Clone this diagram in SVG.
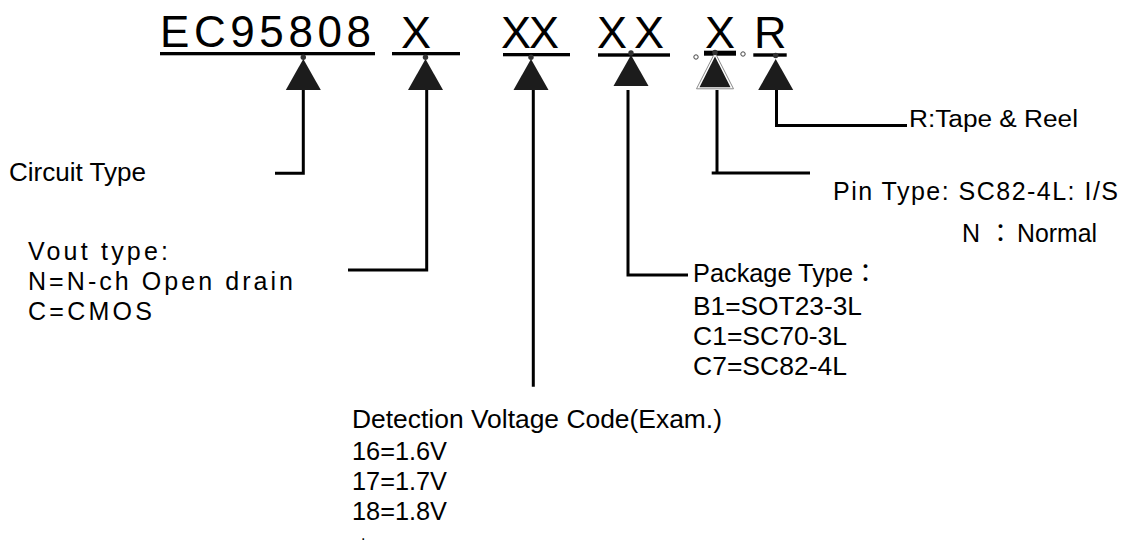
<svg xmlns="http://www.w3.org/2000/svg" width="1126" height="546" viewBox="0 0 1126 546">
<style>
text{font-family:"Liberation Sans","Noto Sans CJK TC",Arial,sans-serif;fill:#000}
.code{font-size:44px}
.code2{font-size:45px}
.lbl{font-size:25px}
.bar{fill:#000}
.wire{fill:none;stroke:#000;stroke-width:3;stroke-linecap:butt;stroke-linejoin:miter}
.tri{fill:#1c1c1c}
.dot{fill:#333}
.ring{fill:#fff;stroke:#444;stroke-width:1}
</style>
<defs>
<path id="tri" class="tri" d="M0,-31 L17.5,0 L-17.5,0 Z"/>
</defs>
<rect width="1126" height="546" fill="#fff"/>

<g id="connectors">
<path class="wire" d="M303.3,84 V173.3 H275"/>
<path class="wire" d="M426.7,84 V270 H348"/>
<path class="wire" d="M533.3,90 V386.7"/>
<path class="wire" d="M628,90 V275 H688"/>
<path class="wire" d="M717,90 V173"/>
<path class="wire" d="M711.7,173 H810"/>
<path class="wire" d="M776.5,84 V125.5 H907"/>
</g>

<g id="part-ec95808">
<text class="code" x="160" y="47" textLength="211">EC95808</text>
<rect class="bar" x="160" y="52" width="215" height="3.3"/>
<use href="#tri" x="303.3" y="90"/>
<circle class="dot" cx="303.3" cy="57.3" r="2.7"/>
</g>

<g id="part-x1">
<text class="code2" x="401" y="48">X</text>
<rect class="bar" x="392" y="52" width="68" height="3.3"/>
<use href="#tri" x="425.5" y="90"/>
<circle class="dot" cx="425.5" cy="57.3" r="2.7"/>
</g>

<g id="part-xx1">
<text class="code2" x="501" y="48" textLength="58">XX</text>
<rect class="bar" x="503" y="53" width="67" height="3.3"/>
<use href="#tri" x="531" y="90"/>
<circle class="dot" cx="531" cy="57.3" r="2.7"/>
</g>

<g id="part-xx2">
<text class="code2" x="597" y="48" textLength="67">XX</text>
<rect class="bar" x="598" y="53.3" width="72" height="3.4"/>
<use href="#tri" x="631" y="86"/>
<circle class="dot" cx="631" cy="53" r="2.7"/>
</g>

<g id="part-x2">
<text class="code2" x="705" y="48">X</text>
<rect class="bar" x="704" y="50.7" width="32" height="5"/>
<polygon points="715,52.5 733.5,88.8 696.5,88.8" fill="#fff" stroke="#8a8a8a" stroke-width="1"/>
<polygon points="715,56.5 730.5,87.2 699.5,87.2" fill="#1c1c1c"/>
<circle class="dot" cx="715" cy="52.5" r="2.7"/>
<circle class="ring" cx="696" cy="57" r="2.2"/>
<circle class="ring" cx="743" cy="54" r="2.2"/>
</g>

<g id="part-r">
<text class="code2" x="754" y="48">R</text>
<rect class="bar" x="753.3" y="53.3" width="33.4" height="3.4"/>
<use href="#tri" x="775.7" y="90"/>
<circle class="dot" cx="775.7" cy="55.5" r="2.7"/>
</g>

<g id="label-circuit">
<text class="lbl" x="9" y="181" textLength="137" lengthAdjust="spacingAndGlyphs">Circuit Type</text>
</g>

<g id="label-vout">
<text class="lbl" x="28" y="260" textLength="140">Vout type:</text>
<text class="lbl" x="28" y="290" textLength="265">N=N-ch Open drain</text>
<text class="lbl" x="28" y="320" textLength="124">C=CMOS</text>
</g>

<g id="label-detection">
<text class="lbl" x="352" y="428" textLength="370" lengthAdjust="spacingAndGlyphs">Detection Voltage Code(Exam.)</text>
<text class="lbl" x="352" y="460" textLength="95" lengthAdjust="spacingAndGlyphs">16=1.6V</text>
<text class="lbl" x="352" y="490" textLength="95" lengthAdjust="spacingAndGlyphs">17=1.7V</text>
<text class="lbl" x="352" y="520" textLength="95" lengthAdjust="spacingAndGlyphs">18=1.8V</text>
<text x="361" y="540" style="font-size:16px">.</text>
</g>

<g id="label-package">
<text class="lbl" x="693" y="281.5"><tspan textLength="160" lengthAdjust="spacingAndGlyphs">Package Type</tspan>：</text>
<text class="lbl" x="693" y="315" textLength="169" lengthAdjust="spacingAndGlyphs">B1=SOT23-3L</text>
<text class="lbl" x="693" y="345" textLength="154" lengthAdjust="spacingAndGlyphs">C1=SC70-3L</text>
<text class="lbl" x="693" y="375" textLength="154" lengthAdjust="spacingAndGlyphs">C7=SC82-4L</text>
</g>

<g id="label-pin">
<text class="lbl" x="833" y="199.5" textLength="285">Pin Type: SC82-4L: I/S</text>
<text class="lbl" x="962" y="241.5">N<tspan x="988">：</tspan><tspan x="1017" textLength="80" lengthAdjust="spacingAndGlyphs">Normal</tspan></text>
</g>

<g id="label-reel">
<text class="lbl" x="909" y="127" style="font-size:23px" textLength="169" lengthAdjust="spacingAndGlyphs">R:Tape &amp; Reel</text>
</g>
</svg>
